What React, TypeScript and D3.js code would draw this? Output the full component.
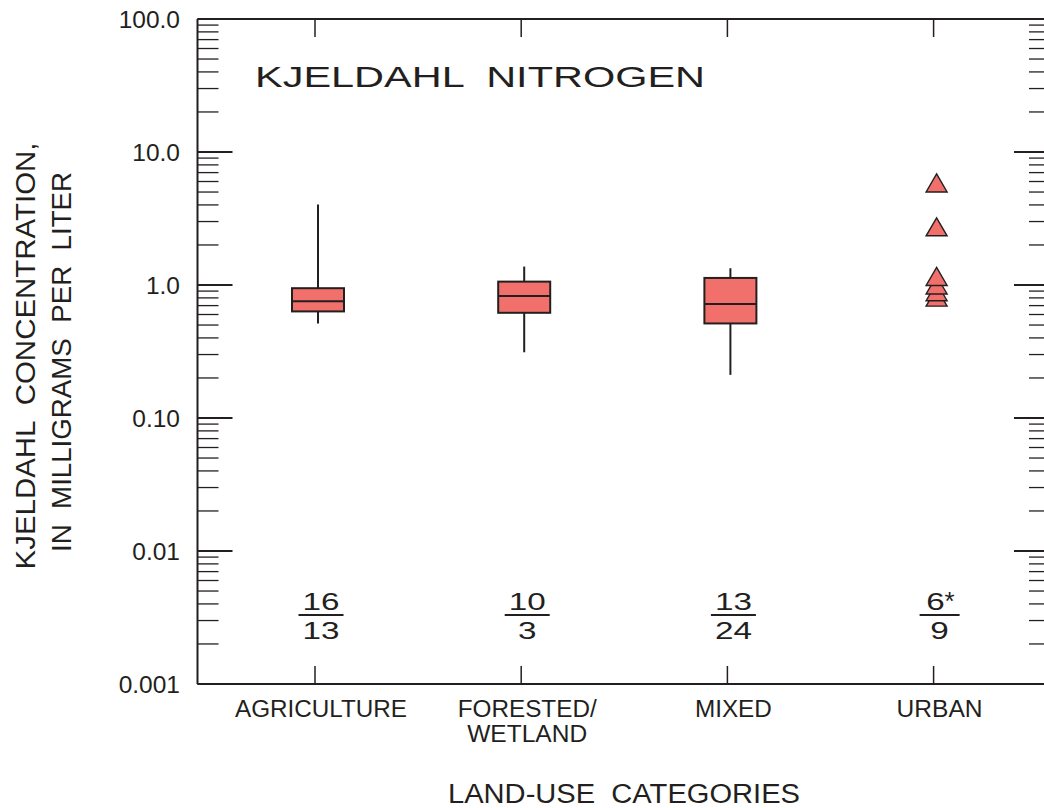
import React from "react";
import * as d3 from "d3";

const categories = ["AGRICULTURE", "FORESTED/WETLAND", "MIXED", "URBAN"];
const labelLines = [["AGRICULTURE"], ["FORESTED/", "WETLAND"], ["MIXED"], ["URBAN"]];
const labelWidths = [[172], [139, 120], [77], [86]];
const whiskerLow = [0.514, 0.312, 0.211, null];
const q1 = [0.633, 0.618, 0.514, null];
const median = [0.756, 0.828, 0.721, null];
const q3 = [0.946, 1.06, 1.13, null];
const whiskerHigh = [4.03, 1.376, 1.336, null];
const urbanPoints = [5.85, 2.74, 1.16, 1.0, 0.89, 0.81];
const countTop = ["16", "10", "13", "6"];
const countTopMark = ["", "", "", "*"];
const countBottom = ["13", "3", "24", "9"];
const majorTicks = [100, 10, 1, 0.1, 0.01, 0.001];
const majorLabels = ["100.0", "10.0", "1.0", "0.10", "0.01", "0.001"];

const FONT = "'Liberation Sans', Arial, Helvetica, sans-serif";
const INK = "#231f20";
const FILL = "#f1706b";

export default function App() {
  const left = 197.5, right = 1049, top = 19, bottom = 684;
  const y = d3.scaleLog().domain([0.001, 100]).range([bottom, top]);
  const x = d3.scalePoint<string>().domain(categories).range([318, 936.6]);
  const allTicks = y.ticks();
  const minor = allTicks.filter((t) => Math.abs(Math.log10(t) - Math.round(Math.log10(t))) > 1e-6);
  const boxW = 52;
  const tri = (cx: number, cy: number) => {
    const w = 10.5, h = 18;
    return `M${cx},${cy - h / 2}L${cx + w},${cy + h / 2}L${cx - w},${cy + h / 2}Z`;
  };

  return (
    <svg
      width={1044}
      height={808}
      style={{ position: "absolute", left: 0, top: 0, background: "#fff" }}
      fontFamily={FONT}
    >
      <rect x={0} y={0} width={1044} height={808} fill="#fff" />
      {/* frame */}
      <line x1={left} x2={right} y1={top} y2={top} stroke={INK} strokeWidth={2} />
      <line x1={left} x2={right} y1={bottom} y2={bottom} stroke={INK} strokeWidth={2} />
      <line x1={left} x2={left} y1={top} y2={bottom} stroke={INK} strokeWidth={2} />
      <line x1={right} x2={right} y1={top} y2={bottom} stroke={INK} strokeWidth={2} />

      {/* minor ticks */}
      {minor.map((t, i) => (
        <g key={"mn" + i}>
          <line x1={left} x2={left + 21} y1={y(t)} y2={y(t)} stroke={INK} strokeWidth={1.3} />
          <line x1={right - 20} x2={right} y1={y(t)} y2={y(t)} stroke={INK} strokeWidth={1.3} />
        </g>
      ))}
      {/* major ticks */}
      {majorTicks.map((t, i) => (
        <g key={"mj" + i}>
          <line x1={left} x2={left + 35} y1={y(t)} y2={y(t)} stroke={INK} strokeWidth={1.8} />
          <line x1={right - 35} x2={right} y1={y(t)} y2={y(t)} stroke={INK} strokeWidth={1.8} />
          <text x={180} y={y(t) + 9} textAnchor="end" fontSize={24.5} fill={INK}>
            {majorLabels[i]}
          </text>
        </g>
      ))}

      {/* category ticks */}
      {categories.map((c) => (
        <g key={"ct" + c}>
          <line x1={x(c)! - 3} x2={x(c)! - 3} y1={top} y2={top + 18} stroke={INK} strokeWidth={1.5} />
          <line x1={x(c)! - 3} x2={x(c)! - 3} y1={bottom} y2={bottom - 18} stroke={INK} strokeWidth={1.5} />
        </g>
      ))}

      {/* boxes */}
      {categories.map((c, i) => {
        if (q1[i] == null) return null;
        const cx = x(c)!;
        return (
          <g key={"bx" + c}>
            <line x1={cx} x2={cx} y1={y(whiskerHigh[i]!)} y2={y(q3[i]!)} stroke={INK} strokeWidth={2} />
            <line x1={cx} x2={cx} y1={y(q1[i]!)} y2={y(whiskerLow[i]!)} stroke={INK} strokeWidth={2} />
            <rect
              x={cx - boxW / 2}
              y={y(q3[i]!)}
              width={boxW}
              height={y(q1[i]!) - y(q3[i]!)}
              fill={FILL}
              stroke={INK}
              strokeWidth={2}
            />
            <line x1={cx - boxW / 2} x2={cx + boxW / 2} y1={y(median[i]!)} y2={y(median[i]!)} stroke={INK} strokeWidth={2} />
          </g>
        );
      })}

      {/* urban points */}
      {urbanPoints
        .slice()
        .reverse()
        .map((v, i) => (
          <path key={"pt" + i} d={tri(x("URBAN")!, y(v))} fill={FILL} stroke={INK} strokeWidth={1.4} strokeLinejoin="miter" />
        ))}

      {/* counts */}
      {categories.map((c, i) => {
        const cx = x(c)! + 3;
        const nTop = countTop[i].length, nBot = countBottom[i].length;
        const lineW = i === 3 ? 40 : 45;
        const markShift = countTopMark[i] ? -4 : 0;
        return (
          <g key={"cnt" + c} fontSize={24} fill={INK}>
            <text x={cx + markShift} y={609.5} textAnchor="middle" textLength={nTop * 18.5} lengthAdjust="spacingAndGlyphs">
              {countTop[i]}
            </text>
            {countTopMark[i] && (
              <text x={cx + markShift + 9} y={610} fontSize={26} fill={INK}>
                {countTopMark[i]}
              </text>
            )}
            <line x1={cx - lineW / 2} x2={cx + lineW / 2} y1={615} y2={615} stroke={INK} strokeWidth={2} />
            <text x={cx} y={639} textAnchor="middle" textLength={nBot * 18.5} lengthAdjust="spacingAndGlyphs">
              {countBottom[i]}
            </text>
          </g>
        );
      })}

      {/* category labels */}
      {categories.map((c, i) => (
        <g key={"lbl" + c}>
          {labelLines[i].map((ln, j) => (
            <text
              key={j}
              x={x(c)! + 3}
              y={716.5 + j * 25}
              textAnchor="middle"
              fontSize={23.5}
              fill={INK}
              textLength={labelWidths[i][j]}
              lengthAdjust="spacingAndGlyphs"
            >
              {ln}
            </text>
          ))}
        </g>
      ))}

      {/* title */}
      <text x={255} y={87} fontSize={30} fill={INK} textLength={450} lengthAdjust="spacingAndGlyphs" xmlSpace="preserve">
        KJELDAHL  NITROGEN
      </text>

      {/* axis titles */}
      <text
        transform={`translate(34.5,356) rotate(-90)`}
        textAnchor="middle"
        fontSize={27}
        fill={INK}
        textLength={427}
        lengthAdjust="spacingAndGlyphs"
        xmlSpace="preserve"
      >
        KJELDAHL  CONCENTRATION,
      </text>
      <text
        transform={`translate(70.5,362) rotate(-90)`}
        textAnchor="middle"
        fontSize={27}
        fill={INK}
        textLength={380}
        lengthAdjust="spacingAndGlyphs"
        xmlSpace="preserve"
      >
        IN  MILLIGRAMS  PER  LITER
      </text>
      <text
        x={624}
        y={803}
        textAnchor="middle"
        fontSize={27}
        fill={INK}
        textLength={352}
        lengthAdjust="spacingAndGlyphs"
        xmlSpace="preserve"
      >
        LAND-USE  CATEGORIES
      </text>
    </svg>
  );
}
